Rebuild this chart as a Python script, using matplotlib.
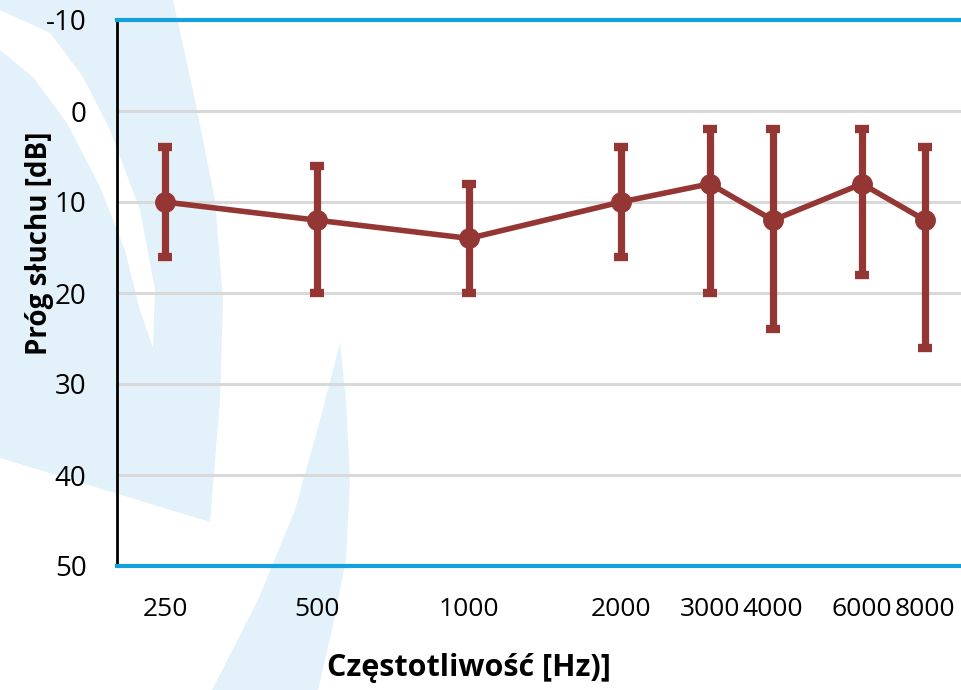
import numpy as np
import matplotlib.pyplot as plt
from matplotlib.patches import Polygon

# audiogram: mean hearing threshold with range
freqs = [250, 500, 1000, 2000, 3000, 4000, 6000, 8000]
threshold = [10, 12, 14, 10, 8, 12, 8, 12]
low = [4, 6, 8, 4, 2, 2, 2, 4]       # upper end of the bar (better hearing)
high = [16, 20, 20, 16, 20, 24, 18, 26]
yticks = [-10, 0, 10, 20, 30, 40, 50]

red = '#943634'
blue = '#14a0dc'
wm = '#e3f2fa'

W, H = 962, 690
plt.rcParams['font.family'] = ['Open Sans', 'DejaVu Sans']
plt.rcParams['axes.unicode_minus'] = False
fig = plt.figure(figsize=(W / 100, H / 100), dpi=100)


def px(pts):
    # pixel coords (from top-left) -> figure fraction
    return [(x / W, 1 - y / H) for x, y in pts]


# light watermark swoosh in the background
shape_a = [(0, 0), (173, 0), (195, 100), (215, 200), (223, 300), (220, 400),
           (210, 522), (0, 458)]
stripe = [(0, 10), (50, 33), (83, 77), (110, 130), (140, 210), (155, 290),
          (153, 348), (140, 310), (125, 250), (100, 187), (67, 123), (33, 77),
          (0, 50)]
shape_b = [(340, 343), (346, 400), (350, 480), (346, 560), (332, 630), (318, 690),
           (212, 690), (258, 600), (295, 510), (320, 420)]
fig.add_artist(Polygon(px(shape_a), closed=True, transform=fig.transFigure,
                       facecolor=wm, edgecolor='none', zorder=-3))
fig.add_artist(Polygon(px(stripe), closed=True, transform=fig.transFigure,
                       facecolor='white', edgecolor='none', zorder=-2))
fig.add_artist(Polygon(px(shape_b), closed=True, transform=fig.transFigure,
                       facecolor=wm, edgecolor='none', zorder=-3))

ax = fig.add_axes([117 / W, 1 - 566 / H, 1 - 117 / W, (566 - 20) / H])
ax.set_facecolor('none')

f = np.array(freqs)
t = np.array(threshold)
yerr = [t - np.array(low), np.array(high) - t]
ax.errorbar(f, t, yerr=yerr, color=red, lw=4, marker='o', ms=14,
            ecolor=red, elinewidth=5.2, capsize=5, capthick=6, zorder=3)

ax.set_xscale('log')
ax.set_xlim(200.9, 9470)
ax.set_ylim(50, -10)
ax.set_yticks(yticks)
ax.set_xticks(freqs)
ax.set_xticklabels([str(v) for v in freqs])
ax.xaxis.set_minor_locator(plt.NullLocator())

ax.yaxis.grid(True, color='#d9d9d9', lw=2.2)
ax.set_axisbelow(True)

for s in ['top', 'bottom']:
    ax.spines[s].set_color(blue)
    ax.spines[s].set_linewidth(3)
ax.spines['left'].set_color('black')
ax.spines['left'].set_linewidth(2)
ax.spines['right'].set_visible(False)

ax.tick_params(axis='y', length=0, pad=22, labelsize=20)
ax.tick_params(axis='x', length=0, pad=22, labelsize=19)

ax.set_ylabel('Próg słuchu [dB]', fontsize=20, fontweight='bold')
ax.set_xlabel('Częstotliwość [Hz)]', fontsize=22, fontweight='bold')
# label centres taken from the reference layout (pixels)
ax.yaxis.set_label_coords((40 - 117) / 845, (566 - 243) / 546)
ax.xaxis.set_label_coords((469 - 117) / 845, -(668 - 566) / 546)
ax.yaxis.label.set_va('center')
ax.xaxis.label.set_va('center')

fig.savefig('out.png', dpi=100)
